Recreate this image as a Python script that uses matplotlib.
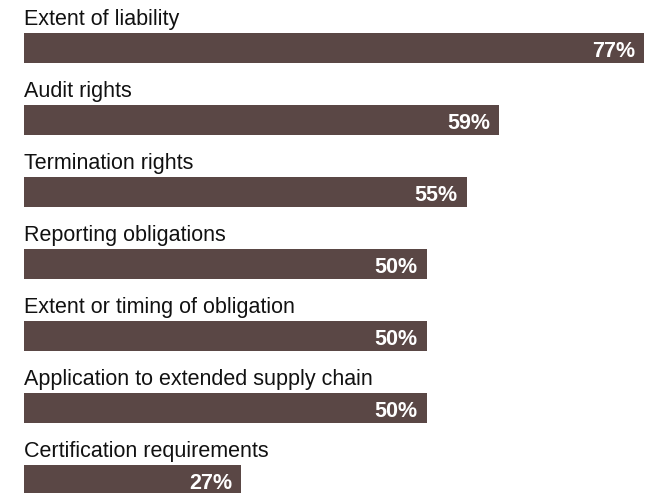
import matplotlib.pyplot as plt

# data
categories = [
    "Extent of liability",
    "Audit rights",
    "Termination rights",
    "Reporting obligations",
    "Extent or timing of obligation",
    "Application to extended supply chain",
    "Certification requirements",
]
values = [77, 59, 55, 50, 50, 50, 27]

bar_color = "#5a4745"
plt.rcParams['font.family'] = ['Liberation Sans', 'DejaVu Sans']

fig = plt.figure(figsize=(6.51, 4.93), dpi=100)
ax = fig.add_axes([0, 0, 1, 1])

# pixel-ish layout: 1% = 8.05 px, bars start at x = 24 px
px = 8.05
ax.set_xlim(-24 / px, (651 - 24) / px)
ax.set_ylim(493, 0)

for i, (cat, v) in enumerate(zip(categories, values)):
    top = 33 + 72 * i
    ax.barh(top + 15, v, height=30, left=0, color=bar_color)
    ax.text(0, top - 8, cat, fontsize=15.5, color="#111111",
            ha="left", va="baseline")
    ax.text(v - 9 / px, top + 24, f"{v}%", fontsize=15.5, color="white",
            fontweight="bold", ha="right", va="baseline")

ax.axis("off")
fig.savefig("out.png", dpi=100)
